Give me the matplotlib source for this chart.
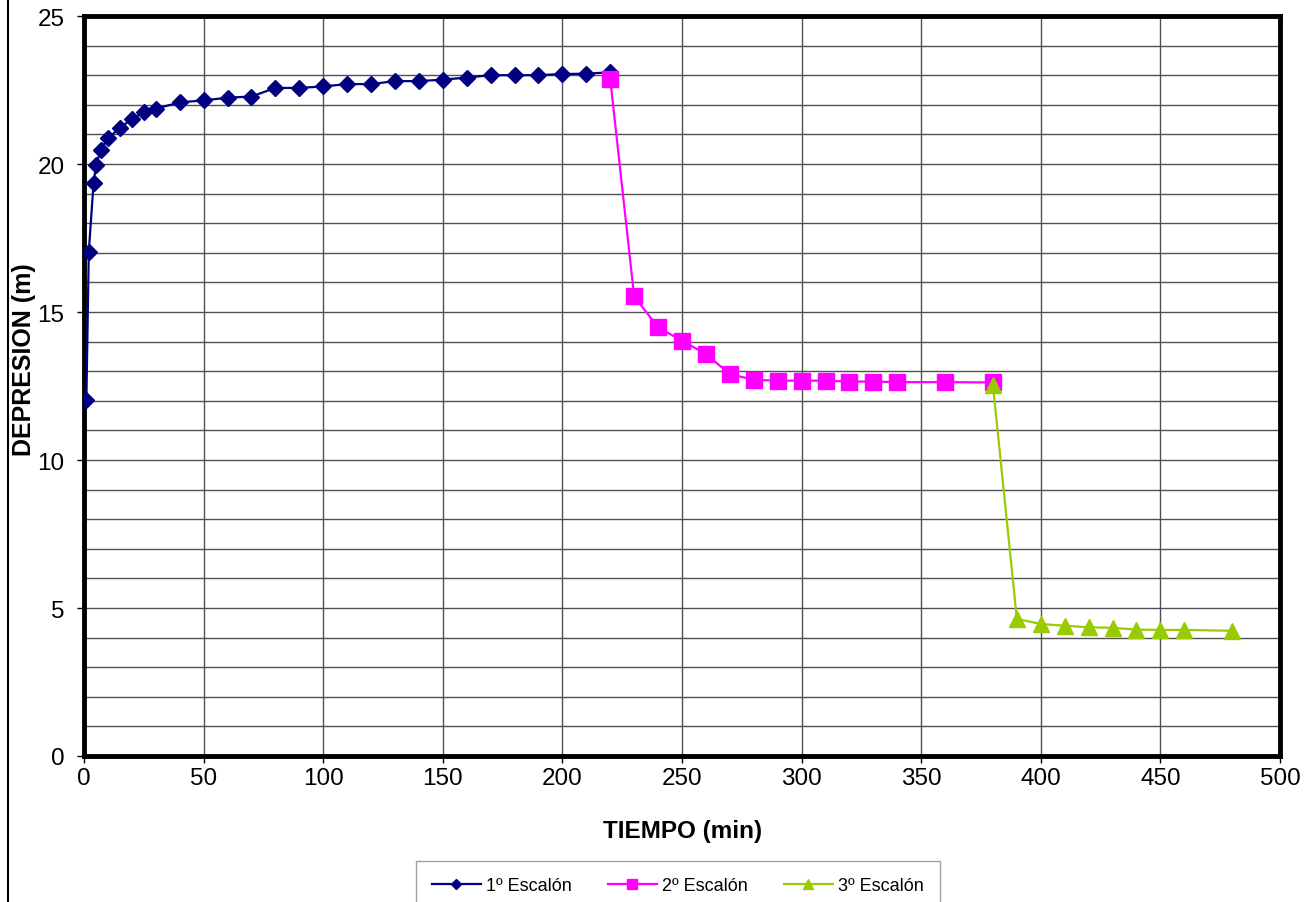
import matplotlib
matplotlib.use("Agg")
import matplotlib.pyplot as plt
from matplotlib.lines import Line2D
from matplotlib.ticker import MultipleLocator

plt.rcParams['font.family'] = ['Liberation Sans', 'DejaVu Sans']

t1 = [1, 2, 4, 5, 7, 10, 15, 20, 25, 30, 40, 50, 60, 70, 80, 90, 100, 110, 120,
      130, 140, 150, 160, 170, 180, 190, 200, 210, 220]
s1 = [12.04, 17.04, 19.35, 19.95, 20.48, 20.87, 21.22, 21.52, 21.75, 21.87, 22.08,
      22.15, 22.24, 22.28, 22.57, 22.57, 22.62, 22.70, 22.70, 22.80, 22.80, 22.85,
      22.92, 23.00, 23.00, 23.00, 23.04, 23.05, 23.10]

t2 = [220, 230, 240, 250, 260, 270, 280, 290, 300, 310, 320, 330, 340, 360, 380]
s2 = [22.87, 15.53, 14.48, 14.03, 13.58, 12.90, 12.71, 12.68, 12.68, 12.68, 12.65,
      12.65, 12.63, 12.63, 12.62]

t3 = [380, 390, 400, 410, 420, 430, 440, 450, 460, 480]
s3 = [12.52, 4.63, 4.46, 4.40, 4.35, 4.33, 4.27, 4.26, 4.26, 4.23]

labels = ["1º Escalón", "2º Escalón", "3º Escalón"]
x_label = "TIEMPO (min)"
y_label = "DEPRESION (m)"

fig = plt.figure(figsize=(13.08, 9.03), dpi=100)
ax = fig.add_axes([84/1308, 1-757/903, (1280-84)/1308, (757-17)/903])

ax.plot(t1, s1, color='#000080', marker='D', markersize=8.5, linewidth=1.6, label=labels[0], zorder=3)
ax.plot(t2, s2, color='#FF00FF', marker='s', markersize=11, linewidth=1.6, label=labels[1], zorder=3)
ax.plot(t3, s3, color='#99CC00', marker='^', markersize=11, linewidth=1.6, label=labels[2], zorder=4)

ax.set_xlim(0, 500)
ax.set_ylim(0, 25)
ax.xaxis.set_major_locator(MultipleLocator(50))
ax.yaxis.set_major_locator(MultipleLocator(5))
ax.yaxis.set_minor_locator(MultipleLocator(1))
ax.grid(True, which='major', axis='both', color='#505050', linewidth=1.0)
ax.grid(True, which='minor', axis='y', color='#505050', linewidth=1.0)
ax.tick_params(axis='both', which='major', labelsize=17.5, length=5, width=1, direction='out')
ax.tick_params(axis='x', which='major', pad=3)
ax.tick_params(axis='y', which='major', pad=9)
ax.tick_params(axis='y', which='minor', length=0)
for sp in ax.spines.values():
    sp.set_linewidth(3.5)
    sp.set_color('black')

fig.text(683/1308, 1-832/903, x_label, fontsize=17.5, fontweight='bold', ha='center', va='center')
fig.text(24/1308, 1-360/903, y_label, fontsize=18, fontweight='bold', ha='center', va='center',
         rotation=90)

leg = fig.legend(loc='upper center', bbox_to_anchor=(678/1308, 1-862/903), ncol=3,
                 fontsize=13, frameon=True, fancybox=False, handlelength=2.7,
                 handletextpad=0.3, columnspacing=2.0, borderpad=0.9, borderaxespad=0,
                 markerscale=0.6)
leg.get_frame().set_edgecolor('#888888')
leg.get_frame().set_linewidth(1.0)

fig.add_artist(Line2D([8/1308, 8/1308], [0, 1], color='black', linewidth=1.5, transform=fig.transFigure))

fig.savefig("out.png", dpi=100)
